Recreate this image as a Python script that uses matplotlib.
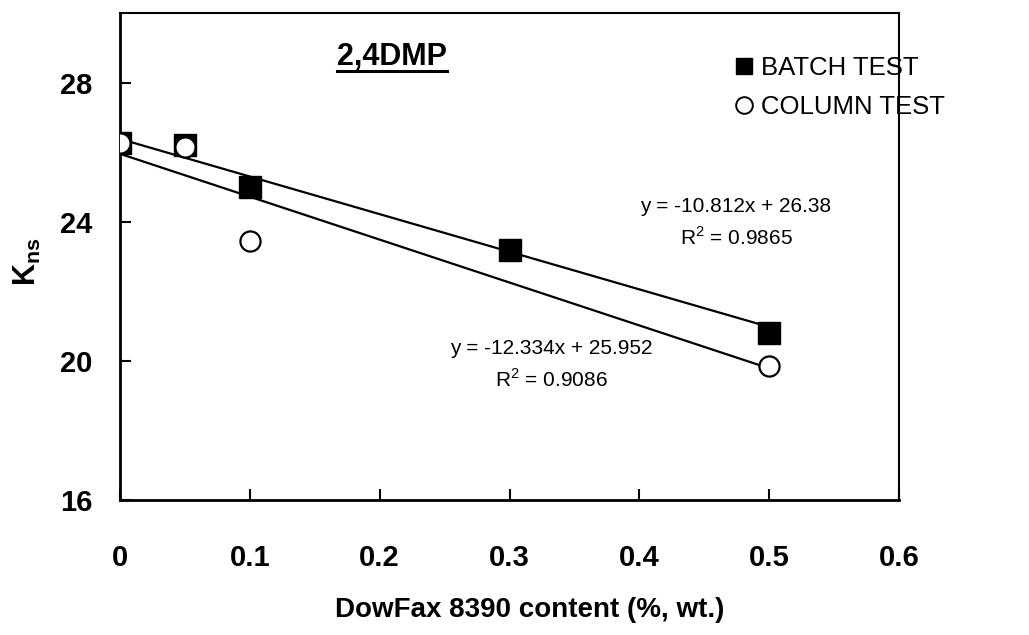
import matplotlib
matplotlib.use("Agg")
import matplotlib.pyplot as plt
from matplotlib.lines import Line2D
import numpy as np

plt.rcParams['font.family'] = ['Liberation Sans', 'DejaVu Sans']
plt.rcParams['mathtext.fontset'] = 'custom'
plt.rcParams['mathtext.rm'] = 'Liberation Sans'
plt.rcParams['mathtext.bf'] = 'Liberation Sans:bold'

# ---- data ----
batch_x = [0.0, 0.05, 0.1, 0.3, 0.5]
batch_y = [26.25, 26.2, 25.0, 23.2, 20.8]
column_x = [0.0, 0.05, 0.1, 0.5]
column_y = [26.25, 26.15, 23.45, 19.85]
batch_fit = (-10.812, 26.38)      # slope, intercept
column_fit = (-12.334, 25.952)
batch_r2 = 0.9865
column_r2 = 0.9086
fit_x = [0.0, 0.5]
x_ticks = [0, 0.1, 0.2, 0.3, 0.4, 0.5, 0.6]
x_ticklabels = ['0', '0.1', '0.2', '0.3', '0.4', '0.5', '0.6']
y_ticks = [16, 20, 24, 28]
title_text = '2,4DMP'
legend_labels = ['BATCH TEST', 'COLUMN TEST']

fig = plt.figure(figsize=(10.29, 6.35), dpi=100)
ax = fig.add_axes([120/1029, 1 - 500/635, (899-120)/1029, (500-13)/635])

# trend lines
for (m, b) in (batch_fit, column_fit):
    fx = np.array(fit_x)
    ax.plot(fx, m*fx + b, color='black', lw=1.6, zorder=2)

ax.plot(batch_x, batch_y, ls='none', marker='s', ms=16, mfc='black', mec='black', zorder=3)
ax.plot(column_x, column_y, ls='none', marker='o', ms=14.5, mfc='white', mec='black', mew=1.6, zorder=4)

ax.set_xlim(0, 0.6)
ax.set_ylim(16, 30)
ax.set_xticks(x_ticks)
ax.set_xticklabels(x_ticklabels)
ax.set_yticks(y_ticks)
ax.tick_params(direction='in', length=8, width=1.5, labelsize=21, top=False, right=False)
ax.tick_params(axis='x', pad=32)
ax.tick_params(axis='y', pad=20)
for lab in ax.get_xticklabels() + ax.get_yticklabels():
    lab.set_fontweight('bold')
for s in ['left', 'bottom']:
    ax.spines[s].set_linewidth(2.0)
for s in ['top', 'right']:
    ax.spines[s].set_linewidth(1.5)

ax.set_xlabel('DowFax 8390 content (%, wt.)', fontsize=20, fontweight='bold')
ax.xaxis.set_label_coords((530-120)/779, -(597-500)/487)
ax.set_ylabel(r'$\mathbf{K_{ns}}$', fontsize=22)
ax.yaxis.set_label_coords(-(120-43)/779, (500-262)/487)

# equations
ax.text((736-120)/779, (500-223)/487,
        'y = %.3fx + %.2f\nR$^2$ = %.4f' % (batch_fit[0], batch_fit[1], batch_r2),
        transform=ax.transAxes, ha='center', va='center', fontsize=15,
        multialignment='center', linespacing=1.55)
ax.text((551-120)/779, (500-364.5)/487,
        'y = %.3fx + %.3f\nR$^2$ = %.4f' % (column_fit[0], column_fit[1], column_r2),
        transform=ax.transAxes, ha='center', va='center', fontsize=15,
        multialignment='center', linespacing=1.55)

# title with underline
t = ax.text((392-120)/779, (500-57)/487, title_text, transform=ax.transAxes,
            ha='center', va='center', fontsize=22, fontweight='bold')
fig.canvas.draw()
bb = t.get_window_extent(renderer=fig.canvas.get_renderer())
inv = fig.transFigure.inverted()
(x0, y0), (x1, y1) = inv.transform([[bb.x0, bb.y0], [bb.x1, bb.y0]])
fig.add_artist(Line2D([x0, x1], [y0 + 1.0/635, y0 + 1.0/635], transform=fig.transFigure,
                      color='black', lw=2.2))

# legend
handles = [Line2D([], [], ls='none', marker='s', ms=12, mfc='black', mec='black'),
           Line2D([], [], ls='none', marker='o', ms=12, mfc='white', mec='black', mew=1.4)]
ax.legend(handles, legend_labels, loc='upper left', bbox_to_anchor=((734-120)/779, (500-56)/487),
          frameon=False, fontsize=18.5, handlelength=0.8, handletextpad=0.25,
          borderpad=0, borderaxespad=0, labelspacing=0.6)

fig.savefig('out.png', dpi=100)
